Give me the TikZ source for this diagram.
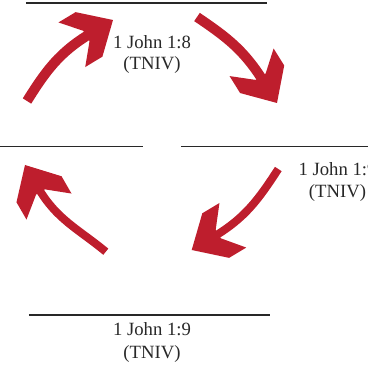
\documentclass[tikz,border=0pt]{standalone}
\usepackage{fontspec}
\setmainfont{Liberation Serif}
\usetikzlibrary{calc}
\definecolor{arrowred}{RGB}{190,30,45}
\definecolor{ink}{RGB}{40,40,40}
\tikzset{
  rule/.style={draw=ink,line width=1.3pt},
  lbl/.style={anchor=base,inner sep=0pt,text=ink,font=\fontsize{18.7}{21.7}\selectfont},
  shaftline/.style={draw=arrowred,line width=#1},
  headshape/.style={fill=arrowred}
}
\begin{document}
\begin{tikzpicture}[x=1pt,y=1pt]
\useasboundingbox (0,0) rectangle (368,365);
% rules
\draw[rule] (26,362) -- (267,362);
\draw[rule] (0,218.3) -- (143,218.3);
\draw[rule] (181,218.3) -- (368,218.3);
\draw[rule] (29,50) -- (270,50);
% labels
\node[lbl] (l1a) at (152,316.7) {1 John 1:8};
\node[lbl] (l1b) at (152,295) {(TNIV)};
\node[lbl] (l2a) at (337.5,189.3) {1 John 1:9};
\node[lbl] (l2b) at (337.5,167.3) {(TNIV)};
\node[lbl] (l3a) at (152,29) {1 John 1:9};
\node[lbl] (l3b) at (152,6.7) {(TNIV)};
% arrow coordinates
\coordinate (a1t) at (27,264);
\coordinate (a1h) at (113,345);
\coordinate (a2t) at (197,348);
\coordinate (a2h) at (277,262);
\coordinate (a3t) at (278.3,196);
\coordinate (a3h) at (191.7,115);
\coordinate (a4t) at (105.8,113.3);
\coordinate (a4h) at (25,200);
% shafts
\draw[shaftline=10pt] (a1t) to[out=58,in=211] ($(a1h)+(211:26)$);
\draw[shaftline=10pt] (a2t) to[out=-34,in=122] ($(a2h)+(122:26)$);
\draw[shaftline=8pt] (a3t) to[out=237,in=31] ($(a3h)+(31:26)$);
\draw[shaftline=8pt] (a4t) to[out=140.6,in=300] ($(a4h)+(300:26)$);
% heads
\begin{scope}[shift={(a1h)},rotate=31]
\fill[headshape] (0,0) -- (-28,26) -- (-48,26) -- (-31,6) -- (-31,-6) -- (-48,-26) -- (-28,-26) -- cycle;
\end{scope}
\begin{scope}[shift={(a2h)},rotate=-58]
\fill[headshape] (0,0) -- (-28,26) -- (-48,26) -- (-31,6) -- (-31,-6) -- (-48,-26) -- (-28,-26) -- cycle;
\end{scope}
\begin{scope}[shift={(a3h)},rotate=211]
\fill[headshape] (0,0) -- (-28,26) -- (-48,26) -- (-31,5) -- (-31,-5) -- (-48,-26) -- (-28,-26) -- cycle;
\end{scope}
\begin{scope}[shift={(a4h)},rotate=120]
\fill[headshape] (0,0) -- (-28,26) -- (-48,26) -- (-31,5) -- (-31,-5) -- (-48,-26) -- (-28,-26) -- cycle;
\end{scope}
\end{tikzpicture}
\end{document}
